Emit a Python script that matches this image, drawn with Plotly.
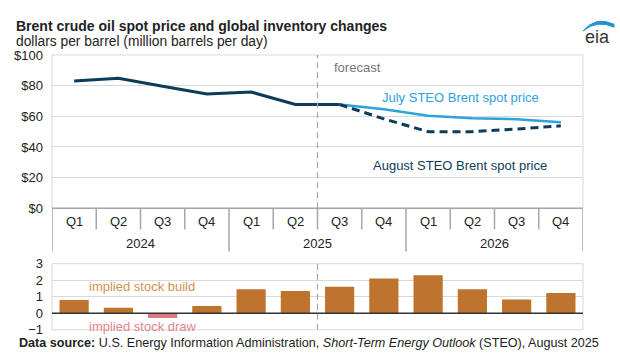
import plotly.graph_objects as go

W, H = 620, 364

# ---------------- data ----------------
years = ["2024", "2025", "2026"]
quarters = ["Q1", "Q2", "Q3", "Q4"]
categories = [f"{q} {y}" for y in years for q in quarters]

history_cats = categories[0:7]          # Q1 2024 .. Q3 2025
history_price = [83.0, 84.8, 79.6, 74.6, 75.8, 67.7, 67.7]

forecast_cats = categories[6:]          # Q3 2025 .. Q4 2026
july_price = [67.7, 64.6, 60.4, 58.8, 58.1, 56.2]
august_price = [67.7, 58.3, 50.0, 50.0, 51.7, 53.8]

stock_change = [0.81, 0.33, -0.29, 0.44, 1.45, 1.34, 1.60, 2.11, 2.30, 1.45, 0.83, 1.22]

price_ticks = [0, 20, 40, 60, 80, 100]
stock_ticks = [-1, 0, 1, 2, 3]

# ---------------- styles ----------------
NAVY = "#0C3C5A"
LBLUE = "#2BA3DD"
BAR = "#BE742C"
BAR_NEG = "#DB7880"
GRID = "#D9D9D9"
SEP = "#A6A6A6"
TXT = "#222222"
FONT = "Liberation Sans, Arial, sans-serif"

idx = {c: i for i, c in enumerate(categories)}


def px_x(p):
    return p / W


def px_y(p):
    return (H - p) / H


x_left, x_right = 52, 583
top_top, top_bot = 50, 210
bot_top, bot_bot = 267.7, 336.7

fig = go.Figure()

fig.add_trace(go.Scatter(
    x=[idx[c] for c in history_cats], y=history_price, mode="lines",
    line=dict(color=NAVY, width=3), xaxis="x", yaxis="y", showlegend=False))
fig.add_trace(go.Scatter(
    x=[idx[c] for c in forecast_cats], y=july_price, mode="lines",
    line=dict(color=LBLUE, width=2.5), xaxis="x", yaxis="y", showlegend=False))
fig.add_trace(go.Scatter(
    x=[idx[c] for c in forecast_cats], y=august_price, mode="lines",
    line=dict(color=NAVY, width=3, dash="8px,5px"), xaxis="x", yaxis="y", showlegend=False))

fig.add_trace(go.Bar(
    x=[idx[c] for c in categories], y=stock_change,
    marker=dict(color=[BAR if v >= 0 else BAR_NEG for v in stock_change], line=dict(width=0)),
    width=0.66, xaxis="x2", yaxis="y2", showlegend=False))

xr = [-0.5, len(categories) - 0.5]

fig.update_layout(
    width=W, height=H, autosize=False,
    margin=dict(l=0, r=0, t=0, b=0, pad=0),
    paper_bgcolor="white", plot_bgcolor="white",
    font=dict(family=FONT, size=13, color=TXT),
    xaxis=dict(domain=[px_x(x_left), px_x(x_right)], range=xr, showgrid=False,
               zeroline=False, showticklabels=False, showline=False, fixedrange=True),
    yaxis=dict(domain=[px_y(top_bot), px_y(top_top)], range=[0, 100], tickvals=price_ticks,
               ticktext=[f"${v}" for v in price_ticks], showgrid=True, gridcolor=GRID,
               gridwidth=1, zeroline=False, showline=False, ticks="",
               ticklabelstandoff=8, tickfont=dict(size=13, color=TXT)),
    xaxis2=dict(domain=[px_x(x_left), px_x(x_right)], range=xr, showgrid=False,
                zeroline=False, showticklabels=False, showline=False, anchor="y2"),
    yaxis2=dict(domain=[px_y(bot_bot), px_y(bot_top)], range=[-1, 3], tickvals=stock_ticks,
                showgrid=True, gridcolor=GRID, gridwidth=1, zeroline=False, showline=False,
                ticks="", ticklabelstandoff=8, anchor="x2", tickfont=dict(size=13, color=TXT)),
)

shapes = []
# plot frames
for (t, b) in [(top_top, top_bot), (bot_top, bot_bot)]:
    shapes.append(dict(type="rect", xref="paper", yref="paper",
                       x0=px_x(x_left), x1=px_x(x_right), y0=px_y(b), y1=px_y(t),
                       line=dict(color=GRID, width=1), fillcolor="rgba(0,0,0,0)", layer="below"))
# top x axis base line
shapes.append(dict(type="line", xref="paper", yref="paper", x0=px_x(x_left), x1=px_x(x_right),
                   y0=px_y(top_bot), y1=px_y(top_bot), line=dict(color=SEP, width=1.5)))
# zero line of lower chart
shapes.append(dict(type="line", xref="x2", yref="y2", x0=xr[0], x1=xr[1], y0=0, y1=0,
                   line=dict(color="#333333", width=1.5)))
# quarter / year separators
n = len(categories)
for k in range(n + 1):
    xb = k - 0.5
    is_year = (k % 4 == 0)
    shapes.append(dict(type="line", xref="x", yref="paper", x0=xb, x1=xb,
                       y0=px_y(top_bot), y1=px_y(255 if is_year else 232),
                       line=dict(color=SEP, width=1.5)))
# forecast dashed line
fx = idx["Q3 2025"] - 0.5
shapes.append(dict(type="line", xref="x", yref="y", x0=fx, x1=fx, y0=0, y1=100,
                   line=dict(color=SEP, width=1.2, dash="6px,4px")))
shapes.append(dict(type="line", xref="x2", yref="y2", x0=fx, x1=fx, y0=-1, y1=3,
                   line=dict(color=SEP, width=1.2, dash="6px,4px")))

# eia logo swoosh
def P(x, y):
    return f"{px_x(x):.5f},{px_y(y):.5f}"

swoosh = (f"M {P(583,25)} Q {P(596,9)} {P(614,18)} L {P(614,21)} "
          f"Q {P(597,13)} {P(583,25)} Z")
shapes.append(dict(type="path", xref="paper", yref="paper", path=swoosh,
                   fillcolor="#1E93D2", line=dict(color="#1E93D2", width=1)))

fig.update_layout(shapes=shapes)

ann = []
# quarter labels
for c in categories:
    ann.append(dict(x=idx[c], y=px_y(224), xref="x", yref="paper", text=c.split()[0],
                    showarrow=False, font=dict(size=13, color=TXT), yanchor="middle"))
# year labels
for j, y in enumerate(years):
    ann.append(dict(x=j * 4 + 1.5, y=px_y(247), xref="x", yref="paper", text=y,
                    showarrow=False, font=dict(size=13, color=TXT), yanchor="middle"))

ann += [
    dict(x=px_x(14), y=px_y(20), xref="paper", yref="paper", xanchor="left", yanchor="middle",
         text="<b>Brent crude oil spot price and global inventory changes</b>", showarrow=False,
         font=dict(size=14, color=TXT)),
    dict(x=px_x(14), y=px_y(36), xref="paper", yref="paper", xanchor="left", yanchor="middle",
         text="dollars per barrel (million barrels per day)", showarrow=False,
         font=dict(size=13.8, color=TXT)),
    dict(x=px_x(17), y=px_y(350), xref="paper", yref="paper", xanchor="left", yanchor="middle",
         text="<b>Data source:</b> U.S. Energy Information Administration, "
              "<i>Short-Term Energy Outlook</i> (STEO), August 2025",
         showarrow=False, font=dict(size=12.6, color=TXT)),
    dict(x=px_x(332), y=px_y(63), xref="paper", yref="paper", xanchor="left", yanchor="middle",
         text="forecast", showarrow=False, font=dict(size=13, color="#767676")),
    dict(x=px_x(460), y=px_y(94), xref="paper", yref="paper", xanchor="center", yanchor="middle",
         text="July STEO Brent spot price", showarrow=False, font=dict(size=13, color=LBLUE)),
    dict(x=px_x(460), y=px_y(165), xref="paper", yref="paper", xanchor="center", yanchor="middle",
         text="August STEO Brent spot price", showarrow=False, font=dict(size=13, color=NAVY)),
    dict(x=px_x(87), y=px_y(291), xref="paper", yref="paper", xanchor="left", yanchor="middle",
         text="implied stock build", showarrow=False, font=dict(size=13, color="#D69050")),
    dict(x=px_x(87), y=px_y(333), xref="paper", yref="paper", xanchor="left", yanchor="middle",
         text="implied stock draw", showarrow=False, font=dict(size=13, color="#E6848C")),
    dict(x=px_x(597), y=px_y(31), xref="paper", yref="paper", xanchor="center", yanchor="middle",
         text="eia", showarrow=False, font=dict(size=18, color="#333333")),
]
fig.update_layout(annotations=ann)

fig.write_html(
    "out.html",
    config={"displayModeBar": False, "responsive": False},
    post_script=("document.documentElement.style.margin='0';"
                 "document.documentElement.style.overflow='hidden';"
                 "document.body.style.margin='0';document.body.style.padding='0';"
                 "document.body.style.overflow='hidden';"))
